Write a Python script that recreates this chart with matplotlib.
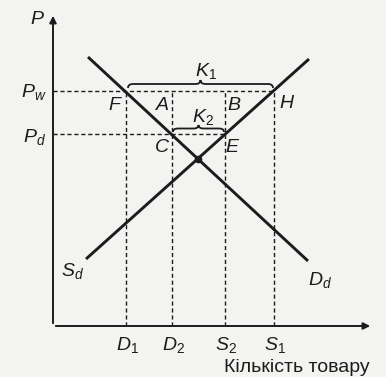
import matplotlib.pyplot as plt
from matplotlib.path import Path
import matplotlib.patches as patches

# supply / demand curves (quantity, price)
demand_q = [35, 255]
demand_p = [269, 65]
supply_q = [33, 256]
supply_p = [67, 267]

# price levels and quantities
p_world = 235
p_domestic = 192
q_d1, q_d2, q_s2, q_s1 = 73, 119, 172, 221

plt.rcParams['mathtext.fontset'] = 'custom'
plt.rcParams['mathtext.it'] = 'Liberation Sans:italic'
plt.rcParams['mathtext.rm'] = 'Liberation Sans'

BG = '#f3f3f1'
INK = '#1c1c1c'


def brace(ax, x0, x1, y, h):
    # curly brace opening downwards, tip pointing up
    m = (x0 + x1) / 2
    r = 5
    verts = [(x0, y), (x0, y + h / 2), (x0 + r, y + h / 2),
             (m - r, y + h / 2), (m, y + h / 2), (m, y + h),
             (m, y + h / 2), (m + r, y + h / 2),
             (x1 - r, y + h / 2), (x1, y + h / 2), (x1, y)]
    codes = [Path.MOVETO, Path.CURVE3, Path.CURVE3,
             Path.LINETO, Path.CURVE3, Path.CURVE3,
             Path.CURVE3, Path.CURVE3,
             Path.LINETO, Path.CURVE3, Path.CURVE3]
    ax.add_patch(patches.PathPatch(Path(verts, codes), fill=False, lw=1.3, color=INK))


fig = plt.figure(figsize=(3.86, 3.77), dpi=100, facecolor=BG)
ax = fig.add_axes([0, 0, 1, 1])
ax.set_facecolor(BG)
ax.set_xlim(-53, 333)
ax.set_ylim(-51, 326)
ax.axis('off')

# axes with arrows
ax.annotate('', xy=(0, 313), xytext=(0, 0),
            arrowprops=dict(arrowstyle='-|>', lw=1.4, color=INK, mutation_scale=10))
ax.annotate('', xy=(320, 0), xytext=(0, 0),
            arrowprops=dict(arrowstyle='-|>', lw=1.4, color=INK, mutation_scale=10))

dash = dict(color=INK, lw=1.0, ls=(0, (3, 2)))
ax.plot([0, q_s1], [p_world, p_world], **dash)
ax.plot([0, q_s2], [p_domestic, p_domestic], **dash)
for q in [q_d1, q_d2, q_s2, q_s1]:
    ax.plot([q, q], [0, p_world], **dash)

ax.plot(demand_q, demand_p, color=INK, lw=2.1, solid_capstyle='butt')
ax.plot(supply_q, supply_p, color=INK, lw=2.1, solid_capstyle='butt')

# equilibrium point
sd = (demand_p[1] - demand_p[0]) / (demand_q[1] - demand_q[0])
ss = (supply_p[1] - supply_p[0]) / (supply_q[1] - supply_q[0])
qe = (supply_p[0] - ss * supply_q[0] - demand_p[0] + sd * demand_q[0]) / (sd - ss)
pe = demand_p[0] + sd * (qe - demand_q[0])
ax.plot([qe], [pe], 'o', color=INK, ms=4.5)

brace(ax, q_d1 + 2, q_s1 - 1, p_world + 3, 8)
brace(ax, q_d2 + 1, q_s2 - 1, p_domestic + 2, 7)

fs = 14
t = dict(color=INK, fontsize=fs, ha='center', va='center')
ax.text(-16, 307, r'$P$', **t)
ax.text(-19, p_world - 1, r'$P_w$', **t)
ax.text(-19, p_domestic - 3, r'$P_d$', **t)
ax.text(q_d1 - 11, p_world - 14, r'$F$', **t)
ax.text(q_d2 - 10, p_world - 14, r'$A$', **t)
ax.text(q_s2 + 9, p_world - 14, r'$B$', **t)
ax.text(q_s1 + 13, p_world - 11, r'$H$', **t)
ax.text(q_d2 - 10, p_domestic - 13, r'$C$', **t)
ax.text(q_s2 + 8, p_domestic - 13, r'$E$', **t)
ax.text((q_d1 + q_s1) / 2 + 6, p_world + 20, r'$K_1$', **t)
ax.text((q_d2 + q_s2) / 2 + 4, p_domestic + 17, r'$K_2$', **t)
ax.text(supply_q[0] - 14, supply_p[0] - 12, r'$S_d$', **t)
ax.text(demand_q[1] + 12, demand_p[1] - 19, r'$D_d$', **t)
for q, lab in [(q_d1, r'$D_1$'), (q_d2, r'$D_2$'), (q_s2, r'$S_2$'), (q_s1, r'$S_1$')]:
    ax.text(q + 1, -19, lab, **t)
ax.text(244, -42, 'Кількість товару', color=INK, fontsize=14, ha='center',
        va='center', family='Liberation Sans')

fig.savefig('out.png', dpi=100, facecolor=BG)
